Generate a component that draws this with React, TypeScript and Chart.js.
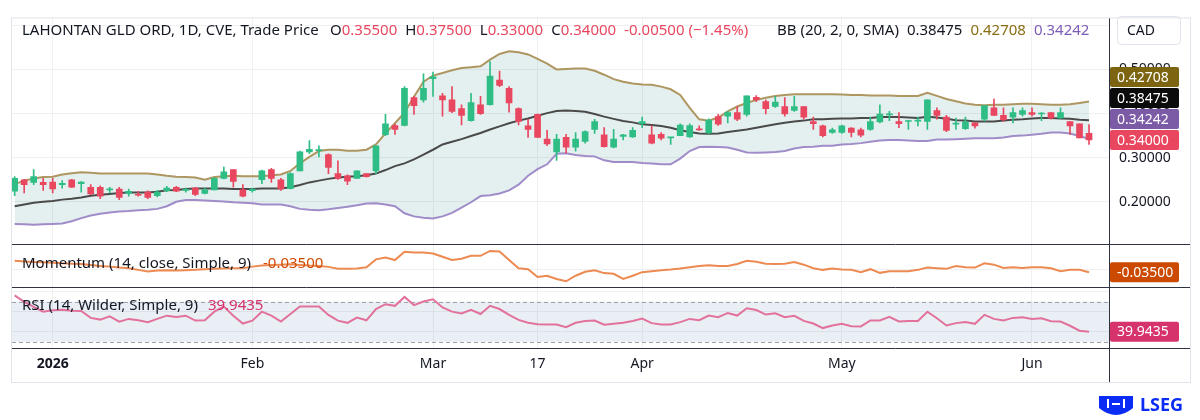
import { useEffect, useRef } from "react";
import { Chart, registerables } from "chart.js";

Chart.register(...registerables);

// LAHONTAN GLD ORD (CVE) daily sessions, 24 Dec 2025 -> 9 Jun 2026
const opens = [
  0.224, 0.250, 0.244, 0.244, 0.245, 0.239, 0.250, 0.241, 0.233, 0.233,
  0.227, 0.229, 0.219, 0.216, 0.222, 0.214, 0.225, 0.233, 0.226, 0.231,
  0.219, 0.227, 0.253, 0.273, 0.227, 0.225, 0.250, 0.273, 0.250, 0.230,
  0.270, 0.313, 0.316, 0.307, 0.264, 0.259, 0.253, 0.264, 0.270, 0.352,
  0.373, 0.373, 0.436, 0.431, 0.479, 0.440, 0.431, 0.411, 0.384, 0.420,
  0.420, 0.476, 0.457, 0.411, 0.372, 0.398, 0.342, 0.313, 0.346, 0.324,
  0.337, 0.364, 0.352, 0.324, 0.348, 0.347, 0.377, 0.352, 0.353, 0.345,
  0.350, 0.347, 0.365, 0.356, 0.393, 0.394, 0.402, 0.398, 0.437, 0.427,
  0.416, 0.416, 0.407, 0.416, 0.382, 0.372, 0.357, 0.357, 0.367, 0.363,
  0.364, 0.381, 0.397, 0.382, 0.382, 0.383, 0.382, 0.407, 0.392, 0.376,
  0.366, 0.379, 0.387, 0.413, 0.396, 0.392, 0.398, 0.402, 0.399, 0.402,
  0.390, 0.382, 0.377, 0.355,
];
const highs = [
  0.257, 0.251, 0.273, 0.253, 0.253, 0.248, 0.251, 0.246, 0.239, 0.236,
  0.233, 0.233, 0.229, 0.224, 0.225, 0.226, 0.235, 0.235, 0.231, 0.233,
  0.231, 0.255, 0.279, 0.273, 0.239, 0.230, 0.272, 0.276, 0.253, 0.266,
  0.315, 0.339, 0.327, 0.309, 0.293, 0.261, 0.270, 0.264, 0.327, 0.398,
  0.376, 0.461, 0.439, 0.490, 0.494, 0.446, 0.461, 0.420, 0.446, 0.439,
  0.518, 0.496, 0.461, 0.413, 0.387, 0.399, 0.362, 0.353, 0.353, 0.357,
  0.361, 0.387, 0.368, 0.364, 0.353, 0.368, 0.392, 0.372, 0.357, 0.346,
  0.377, 0.377, 0.372, 0.388, 0.398, 0.405, 0.416, 0.440, 0.441, 0.431,
  0.439, 0.436, 0.439, 0.416, 0.392, 0.374, 0.367, 0.374, 0.368, 0.367,
  0.392, 0.420, 0.405, 0.402, 0.384, 0.392, 0.431, 0.413, 0.396, 0.390,
  0.392, 0.379, 0.418, 0.433, 0.413, 0.413, 0.413, 0.413, 0.402, 0.402,
  0.413, 0.382, 0.377, 0.375,
];
const lows = [
  0.214, 0.220, 0.239, 0.226, 0.220, 0.231, 0.232, 0.222, 0.216, 0.207,
  0.220, 0.205, 0.213, 0.213, 0.207, 0.211, 0.223, 0.223, 0.222, 0.214,
  0.218, 0.227, 0.252, 0.233, 0.211, 0.222, 0.241, 0.244, 0.226, 0.229,
  0.270, 0.309, 0.302, 0.264, 0.251, 0.239, 0.253, 0.256, 0.264, 0.350,
  0.353, 0.372, 0.398, 0.426, 0.439, 0.394, 0.402, 0.374, 0.383, 0.398,
  0.419, 0.461, 0.403, 0.374, 0.346, 0.346, 0.327, 0.294, 0.310, 0.315,
  0.333, 0.355, 0.324, 0.322, 0.340, 0.346, 0.368, 0.331, 0.340, 0.330,
  0.350, 0.346, 0.362, 0.354, 0.373, 0.379, 0.384, 0.394, 0.427, 0.399,
  0.414, 0.394, 0.405, 0.387, 0.364, 0.347, 0.355, 0.355, 0.347, 0.347,
  0.362, 0.379, 0.384, 0.368, 0.364, 0.372, 0.364, 0.387, 0.359, 0.364,
  0.364, 0.367, 0.383, 0.396, 0.382, 0.379, 0.394, 0.394, 0.384, 0.387,
  0.389, 0.353, 0.345, 0.330,
];
const closes = [
  0.253, 0.239, 0.257, 0.239, 0.229, 0.242, 0.233, 0.245, 0.218, 0.213,
  0.229, 0.210, 0.224, 0.215, 0.210, 0.222, 0.231, 0.224, 0.227, 0.217,
  0.227, 0.253, 0.268, 0.246, 0.213, 0.229, 0.270, 0.253, 0.229, 0.264,
  0.313, 0.319, 0.317, 0.278, 0.253, 0.247, 0.270, 0.257, 0.327, 0.377,
  0.364, 0.457, 0.418, 0.457, 0.483, 0.431, 0.405, 0.396, 0.425, 0.400,
  0.485, 0.464, 0.424, 0.382, 0.364, 0.346, 0.331, 0.342, 0.324, 0.342,
  0.359, 0.382, 0.325, 0.342, 0.352, 0.362, 0.382, 0.333, 0.344, 0.346,
  0.374, 0.373, 0.363, 0.385, 0.376, 0.402, 0.387, 0.440, 0.431, 0.411,
  0.426, 0.399, 0.416, 0.392, 0.377, 0.350, 0.363, 0.372, 0.357, 0.351,
  0.382, 0.399, 0.399, 0.377, 0.383, 0.384, 0.431, 0.396, 0.362, 0.377,
  0.381, 0.372, 0.418, 0.396, 0.386, 0.402, 0.407, 0.398, 0.400, 0.390,
  0.402, 0.372, 0.345, 0.340,
];

// Bollinger Bands (20, 2) as plotted
const bbUpper = [
  0.240, 0.248, 0.253, 0.256, 0.257, 0.262, 0.265, 0.267, 0.266, 0.264,
  0.264, 0.264, 0.264, 0.264, 0.264, 0.262, 0.259, 0.257, 0.256, 0.255,
  0.250, 0.256, 0.258, 0.259, 0.258, 0.258, 0.258, 0.260, 0.262, 0.270,
  0.287, 0.302, 0.315, 0.318, 0.318, 0.316, 0.316, 0.318, 0.330, 0.355,
  0.378, 0.402, 0.438, 0.472, 0.486, 0.492, 0.498, 0.503, 0.505, 0.507,
  0.522, 0.535, 0.541, 0.539, 0.534, 0.524, 0.513, 0.500, 0.501, 0.502,
  0.502, 0.497, 0.488, 0.478, 0.472, 0.468, 0.466, 0.465, 0.461, 0.455,
  0.442, 0.413, 0.387, 0.384, 0.391, 0.405, 0.416, 0.424, 0.431, 0.436,
  0.440, 0.442, 0.444, 0.444, 0.444, 0.444, 0.444, 0.443, 0.442, 0.442,
  0.441, 0.441, 0.441, 0.440, 0.440, 0.440, 0.447, 0.440, 0.433, 0.428,
  0.423, 0.420, 0.419, 0.420, 0.420, 0.421, 0.422, 0.422, 0.421, 0.420,
  0.420, 0.421, 0.424, 0.42708,
];
const bbMid = [
  0.190, 0.194, 0.198, 0.200, 0.202, 0.205, 0.207, 0.210, 0.214, 0.216,
  0.218, 0.220, 0.221, 0.221, 0.221, 0.223, 0.226, 0.227, 0.229, 0.230,
  0.230, 0.230, 0.230, 0.229, 0.229, 0.229, 0.230, 0.230, 0.230, 0.233,
  0.238, 0.244, 0.248, 0.252, 0.255, 0.257, 0.258, 0.260, 0.264, 0.272,
  0.281, 0.287, 0.296, 0.307, 0.318, 0.330, 0.336, 0.342, 0.349, 0.356,
  0.364, 0.371, 0.378, 0.384, 0.389, 0.395, 0.401, 0.406, 0.407, 0.406,
  0.404, 0.399, 0.393, 0.388, 0.383, 0.380, 0.376, 0.374, 0.372, 0.368,
  0.362, 0.358, 0.355, 0.354, 0.355, 0.358, 0.361, 0.364, 0.368, 0.372,
  0.376, 0.379, 0.382, 0.384, 0.387, 0.387, 0.388, 0.389, 0.389, 0.390,
  0.390, 0.392, 0.392, 0.392, 0.391, 0.390, 0.393, 0.391, 0.388, 0.385,
  0.384, 0.382, 0.382, 0.382, 0.384, 0.386, 0.387, 0.389, 0.390, 0.390,
  0.389, 0.388, 0.386, 0.38475,
];
const bbLower = [
  0.150, 0.149, 0.148, 0.149, 0.150, 0.151, 0.156, 0.163, 0.169, 0.173,
  0.176, 0.178, 0.179, 0.181, 0.182, 0.184, 0.190, 0.200, 0.204, 0.204,
  0.203, 0.202, 0.201, 0.199, 0.198, 0.197, 0.194, 0.194, 0.194, 0.190,
  0.184, 0.182, 0.181, 0.183, 0.186, 0.189, 0.192, 0.196, 0.197, 0.194,
  0.190, 0.174, 0.167, 0.164, 0.162, 0.167, 0.175, 0.187, 0.199, 0.213,
  0.215, 0.219, 0.226, 0.239, 0.259, 0.274, 0.285, 0.309, 0.310, 0.306,
  0.304, 0.303, 0.294, 0.290, 0.290, 0.290, 0.288, 0.287, 0.285, 0.285,
  0.298, 0.315, 0.324, 0.325, 0.324, 0.323, 0.318, 0.312, 0.311, 0.312,
  0.313, 0.315, 0.321, 0.324, 0.325, 0.327, 0.327, 0.330, 0.331, 0.333,
  0.336, 0.339, 0.340, 0.340, 0.339, 0.338, 0.338, 0.341, 0.341, 0.342,
  0.343, 0.344, 0.344, 0.344, 0.346, 0.349, 0.350, 0.352, 0.354, 0.357,
  0.357, 0.355, 0.349, 0.34242,
];

// Momentum (14, close)
const momentum = [
  0.101, 0.093, 0.086, 0.082, 0.078, 0.071, 0.067, 0.063, 0.051, 0.040,
  0.032, 0.021, 0.013, -0.006, -0.025, -0.014, -0.010, -0.014, -0.010, -0.006,
  0.002, 0.006, 0.010, 0.013, 0.013, 0.032, 0.044, 0.051, 0.055, 0.059,
  0.051, 0.044, 0.040, 0.029, 0.006, 0.006, 0.010, 0.025, 0.117, 0.139,
  0.109, 0.205, 0.197, 0.197, 0.186, 0.147, 0.109, 0.124, 0.159, 0.159,
  0.216, 0.209, 0.109, 0.013, 0.002, -0.090, -0.075, -0.113, -0.140, -0.075,
  -0.029, -0.010, -0.044, -0.052, -0.113, -0.075, -0.033, -0.021, -0.010, -0.002,
  0.009, 0.025, 0.040, 0.048, 0.040, 0.040, 0.063, 0.101, 0.090, 0.067,
  0.063, 0.067, 0.086, 0.055, 0.013, -0.006, 0.009, -0.002, -0.006, -0.033,
  0.002, -0.041, -0.021, -0.021, -0.021, -0.006, 0.021, 0.013, 0.006, 0.040,
  0.025, 0.021, 0.071, 0.055, 0.017, 0.025, 0.017, 0.025, 0.025, 0.013,
  -0.021, -0.006, -0.006, -0.035,
];

// RSI (14, Wilder)
const rsi = [
  76.2, 69.7, 64.8, 60.0, 61.3, 61.9, 60.9, 60.6, 53.8, 52.1,
  55.4, 50.1, 52.8, 51.4, 49.5, 52.8, 56.0, 54.7, 56.0, 51.1,
  51.4, 60.0, 65.2, 56.0, 48.2, 51.1, 60.0, 56.0, 50.1, 57.7,
  65.2, 65.2, 65.2, 56.7, 51.1, 48.9, 54.1, 51.4, 62.6, 67.4,
  65.8, 74.6, 66.5, 70.1, 72.3, 64.2, 60.0, 58.3, 61.9, 57.7,
  65.8, 62.6, 56.7, 51.8, 48.9, 47.5, 47.2, 47.2, 44.6, 48.9,
  50.8, 51.1, 47.0, 47.9, 48.9, 50.8, 53.1, 48.6, 47.3, 47.3,
  49.6, 52.8, 51.5, 56.1, 54.5, 58.7, 56.1, 63.3, 61.6, 57.1,
  58.4, 54.5, 55.8, 50.8, 48.2, 43.7, 46.3, 47.9, 45.6, 45.3,
  51.2, 51.2, 54.8, 50.2, 50.8, 50.8, 59.9, 53.4, 46.3, 48.6,
  49.6, 47.9, 56.8, 52.8, 51.2, 53.8, 54.5, 52.8, 53.5, 50.5,
  50.2, 46.0, 41.1, 39.9435,
];

// session index of each labelled date (2 Jan, 2 Feb, 2 Mar, 17 Mar, 1 Apr, 1 May, 1 Jun)
const tickIdx = [4, 25, 44, 55, 66, 87, 107];
const tickText = ["2026", "Feb", "Mar", "17", "Apr", "May", "Jun"];
const priceTicks = [0.2, 0.3, 0.4, 0.5, 0.6];
const momTicks = [0];
const rsiTicks = [40, 60, 80];
const rsiLevels = [70, 30];

const FONT = '"Noto Sans", sans-serif';
const INK = "#131722";
const UP = "#2ebd85";
const DOWN = "#e8475f";
const GRID = "#f0f0f0";

const rr = (ctx: CanvasRenderingContext2D, x: number, y: number, w: number, h: number, r: number) => {
  ctx.beginPath();
  ctx.roundRect(x, y, w, h, r);
};

const overlay = {
  id: "overlay",
  beforeDatasetsDraw(chart: any) {
    const { ctx, chartArea: a } = chart;
    const r = chart.scales.yRsi;
    const y70 = r.getPixelForValue(rsiLevels[0]);
    const y30 = r.getPixelForValue(rsiLevels[1]);
    ctx.save();
    ctx.fillStyle = "rgba(70,120,170,0.12)";
    ctx.fillRect(a.left, y70, a.right - a.left, y30 - y70);
    ctx.strokeStyle = "#a0a3ab";
    ctx.lineWidth = 1;
    ctx.setLineDash([4, 3]);
    [y70, y30].forEach((y) => {
      const yy = Math.round(y) + 0.5;
      ctx.beginPath();
      ctx.moveTo(a.left, yy);
      ctx.lineTo(a.right, yy);
      ctx.stroke();
    });
    ctx.restore();
  },
  afterDraw(chart: any) {
    const { ctx, chartArea: a, scales } = chart;
    const n = closes.length - 1;
    const frameR = 1190;
    const frameB = 382;
    ctx.save();

    // cover the axis corner under the currency box
    ctx.fillStyle = "#ffffff";
    ctx.fillRect(a.right + 1, 0, frameR - a.right - 1, 46);

    // frame and pane separators
    ctx.lineWidth = 1;
    ctx.strokeStyle = "#e1e3ea";
    ctx.strokeRect(a.left - 0.5, a.top - 0.5, frameR - a.left + 1, frameB - a.top + 1);
    ctx.strokeStyle = "#2f3241";
    const hl = (y: number) => {
      const yy = Math.round(y) + 0.5;
      ctx.beginPath();
      ctx.moveTo(a.left, yy);
      ctx.lineTo(frameR, yy);
      ctx.stroke();
    };
    hl(scales.yMom.top);
    hl(scales.yRsi.top);
    hl(a.bottom);
    const ax = Math.round(a.right) + 0.5;
    ctx.beginPath();
    ctx.moveTo(ax, a.top);
    ctx.lineTo(ax, frameB);
    ctx.stroke();

    ctx.textBaseline = "middle";
    ctx.textAlign = "left";
    const put = (t: string, x: number, y: number, c: string) => {
      ctx.fillStyle = c;
      ctx.fillText(t, x, y);
      return x + ctx.measureText(t).width;
    };

    // header legend
    ctx.font = `15px ${FONT}`;
    const hy = 31;
    put("LAHONTAN GLD ORD, 1D, CVE, Trade Price", 22, hy, INK);
    const ohlc: [string, number][] = [
      ["O", opens[n]],
      ["H", highs[n]],
      ["L", lows[n]],
      ["C", closes[n]],
    ];
    let hx = 330;
    for (const [k, v] of ohlc) {
      const x2 = put(k, hx, hy, INK);
      hx = put(v.toFixed(5), x2, hy, DOWN) + 8;
    }
    const chg = closes[n] - closes[n - 1];
    const pct = ((chg / closes[n - 1]) * 100).toFixed(2).replace("-", "\u2212");
    put(`${chg.toFixed(5)} (${pct}%)`, hx, hy, DOWN);
    let bx = put("BB (20, 2, 0, SMA)", 777, hy, INK) + 8;
    bx = put(bbMid[n].toFixed(5), bx, hy, INK) + 8;
    bx = put(bbUpper[n].toFixed(5), bx, hy, "#8a6d12") + 8;
    put(bbLower[n].toFixed(5), bx, hy, "#7d5cb8");

    // pane legends
    const my = scales.yMom.top + 20;
    let x = put("Momentum (14, close, Simple, 9)", 22, my, INK);
    put(momentum[n].toFixed(5), x + 12, my, "#d14a04");
    const ry = scales.yRsi.top + 19;
    x = put("RSI (14, Wilder, Simple, 9)", 22, ry, INK);
    put(rsi[n].toFixed(4), x + 10, ry, "#d6336c");

    // currency box
    ctx.font = `14px ${FONT}`;
    ctx.strokeStyle = "#e0e3eb";
    rr(ctx, 1117.5, 16.5, 63, 28, 4);
    ctx.stroke();
    put("CAD", 1127, 31, INK);

    // price badges (stacked upwards so they never overlap)
    const badge = (t: string, yc: number, bg: string) => {
      ctx.fillStyle = bg;
      rr(ctx, a.right + 1, yc - 10, 69, 20, 2);
      ctx.fill();
      ctx.fillStyle = "#ffffff";
      ctx.fillText(t, a.right + 8, yc + 0.5);
    };
    const marks: [number, string][] = [
      [closes[n], DOWN],
      [bbLower[n], "#7b5aa6"],
      [bbMid[n], "#0b0b0b"],
      [bbUpper[n], "#7c6410"],
    ];
    marks.sort((p, q) => p[0] - q[0]);
    let prev = Infinity;
    for (const [v, c] of marks) {
      const yc = Math.min(scales.y.getPixelForValue(v), prev - 21);
      badge(v.toFixed(5), yc, c);
      prev = yc;
    }
    badge(momentum[n].toFixed(5), scales.yMom.getPixelForValue(momentum[n]), "#cc4a00");
    badge(rsi[n].toFixed(4), scales.yRsi.getPixelForValue(rsi[n]), "#d6336c");

    // LSEG mark
    const blue = "#0a2cf5";
    ctx.fillStyle = blue;
    ctx.beginPath();
    ctx.moveTo(1099, 396);
    ctx.lineTo(1133, 396);
    ctx.lineTo(1133, 408);
    ctx.quadraticCurveTo(1116, 422, 1099, 408);
    ctx.closePath();
    ctx.fill();
    ctx.fillStyle = "#ffffff";
    ctx.fillRect(1107, 399, 2, 9);
    ctx.fillRect(1123, 399, 2, 9);
    ctx.fillRect(1112, 403, 8, 2);
    ctx.font = `bold 18px ${FONT}`;
    put("LSEG", 1140, 406, blue);
    ctx.restore();
  },
};

export default function App() {
  const canvasRef = useRef<HTMLCanvasElement | null>(null);

  useEffect(() => {
    if (!canvasRef.current) return;
    Chart.defaults.font.family = FONT;
    const idx = closes.map((_, i) => i);
    const candleColors = idx.map((i) => (closes[i] >= opens[i] ? UP : DOWN));
    const line = (vals: number[]) => idx.map((i) => ({ x: i, y: vals[i] }));

    const chart = new Chart(canvasRef.current, {
      type: "bar",
      data: {
        datasets: [
          {
            type: "bar",
            label: "Body",
            data: idx.map((i) => ({ x: i, y: [opens[i], closes[i]] })),
            backgroundColor: candleColors,
            barThickness: 6,
            minBarLength: 1,
            grouped: false,
            yAxisID: "y",
            order: 0,
          },
          {
            type: "bar",
            label: "Wick",
            data: idx.map((i) => ({ x: i, y: [lows[i], highs[i]] })),
            backgroundColor: candleColors,
            barThickness: 1,
            grouped: false,
            yAxisID: "y",
            order: 1,
          },
          {
            type: "line",
            label: "BB upper",
            data: line(bbUpper),
            borderColor: "#ad9660",
            backgroundColor: "rgba(0,110,100,0.105)",
            borderWidth: 2,
            pointRadius: 0,
            fill: 4,
            yAxisID: "y",
            order: 5,
          },
          {
            type: "line",
            label: "BB basis",
            data: line(bbMid),
            borderColor: "#4a4a4a",
            borderWidth: 2,
            pointRadius: 0,
            fill: false,
            yAxisID: "y",
            order: 4,
          },
          {
            type: "line",
            label: "BB lower",
            data: line(bbLower),
            borderColor: "#a08cc9",
            borderWidth: 2,
            pointRadius: 0,
            fill: false,
            yAxisID: "y",
            order: 4,
          },
          {
            type: "line",
            label: "Momentum",
            data: line(momentum),
            borderColor: "#ec8a52",
            borderWidth: 2,
            pointRadius: 0,
            fill: false,
            yAxisID: "yMom",
            order: 3,
          },
          {
            type: "line",
            label: "RSI",
            data: line(rsi),
            borderColor: "#e2729c",
            borderWidth: 2,
            pointRadius: 0,
            fill: false,
            yAxisID: "yRsi",
            order: 3,
          },
        ],
      } as any,
      options: {
        responsive: false,
        animation: false,
        events: [],
        layout: { padding: { left: 12, top: 12, right: 10, bottom: 38 } },
        plugins: { legend: { display: false }, tooltip: { enabled: false } },
        scales: {
          x: {
            type: "linear",
            position: "bottom",
            min: -0.28,
            max: 115.1,
            offset: false,
            afterBuildTicks: (s: any) => {
              s.ticks = tickIdx.map((v) => ({ value: v }));
            },
            afterFit: (s: any) => {
              s.height = 34;
            },
            grid: { color: GRID, drawTicks: false, offset: false },
            border: { display: false },
            ticks: {
              autoSkip: false,
              maxRotation: 0,
              padding: 8,
              color: INK,
              font: (c: any) => ({ size: 14, weight: c.tick && c.tick.value === tickIdx[0] ? "bold" : "normal" }),
              callback: (v: any) => {
                const k = tickIdx.indexOf(Number(v));
                return k < 0 ? "" : tickText[k];
              },
            },
          },
          y: {
            type: "linear",
            position: "right",
            stack: "panes",
            stackWeight: 230,
            min: 0.1044,
            max: 0.6156,
            afterBuildTicks: (s: any) => {
              s.ticks = priceTicks.map((v) => ({ value: v }));
            },
            afterFit: (s: any) => {
              s.width = 81;
            },
            grid: { color: GRID, drawTicks: false },
            border: { display: false },
            ticks: { padding: 10, color: INK, font: { size: 14 }, callback: (v: any) => Number(v).toFixed(5) },
          },
          yMom: {
            type: "linear",
            position: "right",
            stack: "panes",
            stackWeight: 44,
            min: -0.209,
            max: 0.297,
            afterBuildTicks: (s: any) => {
              s.ticks = momTicks.map((v) => ({ value: v }));
            },
            afterFit: (s: any) => {
              s.width = 81;
            },
            grid: { color: GRID, drawTicks: false },
            border: { display: false },
            ticks: { display: false },
          },
          yRsi: {
            type: "linear",
            position: "right",
            stack: "panes",
            stackWeight: 62,
            min: 23.9,
            max: 84.3,
            afterBuildTicks: (s: any) => {
              s.ticks = rsiTicks.map((v) => ({ value: v }));
            },
            afterFit: (s: any) => {
              s.width = 81;
            },
            grid: { color: GRID, drawTicks: false },
            border: { display: false },
            ticks: { display: false },
          },
        },
      } as any,
      plugins: [overlay as any],
    });

    return () => {
      chart.destroy();
    };
  }, []);

  return (
    <div style={{ position: "fixed", left: 0, top: 0, width: 1200, height: 420, background: "#fff" }}>
      <canvas ref={canvasRef} width={1200} height={420} />
    </div>
  );
}
